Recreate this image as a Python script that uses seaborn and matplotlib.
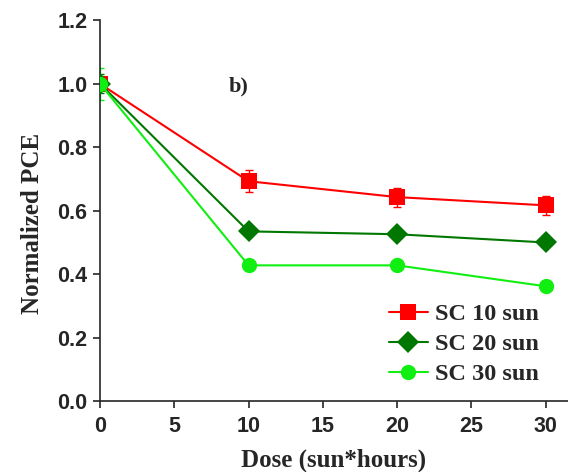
import numpy as np
import pandas as pd
import seaborn as sns
import matplotlib.pyplot as plt

dose = [0, 10, 20, 30]
series = ['SC 10 sun', 'SC 20 sun', 'SC 30 sun']
pce_10 = [1.0, 0.693, 0.643, 0.617]
pce_20 = [1.0, 0.535, 0.526, 0.500]
pce_30 = [1.0, 0.428, 0.428, 0.362]
err_10 = [0.02, 0.035, 0.03, 0.03]
err_20 = [0.03, 0.01, 0.01, 0.01]
err_30 = [0.05, 0.01, 0.01, 0.01]

colors = ['#ff0000', '#007700', '#11ee11']
markers = ['s', 'D', 'o']

df = pd.DataFrame({
    'dose': dose * 3,
    'pce': pce_10 + pce_20 + pce_30,
    'err': err_10 + err_20 + err_30,
    'series': [s for s in series for _ in dose],
})

sns.set_style('ticks')
plt.rcParams['font.family'] = ['Liberation Sans', 'DejaVu Sans']

fig = plt.figure(figsize=(5.68, 4.72), dpi=100)
ax = fig.add_axes([0.176, 0.150, 0.824, 0.807])

for s, c in zip(series, colors):
    sub = df[df['series'] == s]
    ax.errorbar(sub['dose'], sub['pce'], yerr=sub['err'], fmt='none',
                ecolor=c, elinewidth=1, capsize=3, capthick=1, zorder=2)

sns.lineplot(data=df, x='dose', y='pce', hue='series', style='series',
             palette=colors, markers=markers, dashes=False, markersize=11,
             markeredgewidth=0, linewidth=1.5, ax=ax, zorder=3)

ax.set_xlim(0, 31.5)
ax.set_ylim(0, 1.2)
ax.set_xticks([0, 5, 10, 15, 20, 25, 30])
ax.set_yticks([0.0, 0.2, 0.4, 0.6, 0.8, 1.0, 1.2])
ax.yaxis.set_major_formatter(plt.FormatStrFormatter('%.1f'))
ax.tick_params(direction='out', length=5, width=1.2, labelsize=15.5, pad=4)
ax.tick_params(axis='x', pad=6)
for lab in ax.get_xticklabels() + ax.get_yticklabels():
    lab.set_fontweight('bold')
sns.despine(ax=ax)
ax.spines['left'].set_linewidth(1.2)
ax.spines['bottom'].set_linewidth(1.2)

ax.set_xlabel('Dose (sun*hours)', family='Liberation Serif', fontweight='bold',
              fontsize=18, labelpad=8)
ax.set_ylabel('Normalized PCE', family='Liberation Serif', fontweight='bold',
              fontsize=18)
ax.yaxis.set_label_coords(-0.12, 0.467)

ax.text(9.3, 0.99, 'b)', family='Liberation Serif', fontweight='bold', fontsize=16,
        ha='center', va='center')

leg = ax.legend(loc='lower right', bbox_to_anchor=(0.985, -0.015), frameon=False,
                prop={'family': 'Liberation Serif', 'weight': 'bold', 'size': 17.5},
                handlelength=1.6, handletextpad=0.3, labelspacing=0.32)

fig.savefig('out.png', dpi=100)
